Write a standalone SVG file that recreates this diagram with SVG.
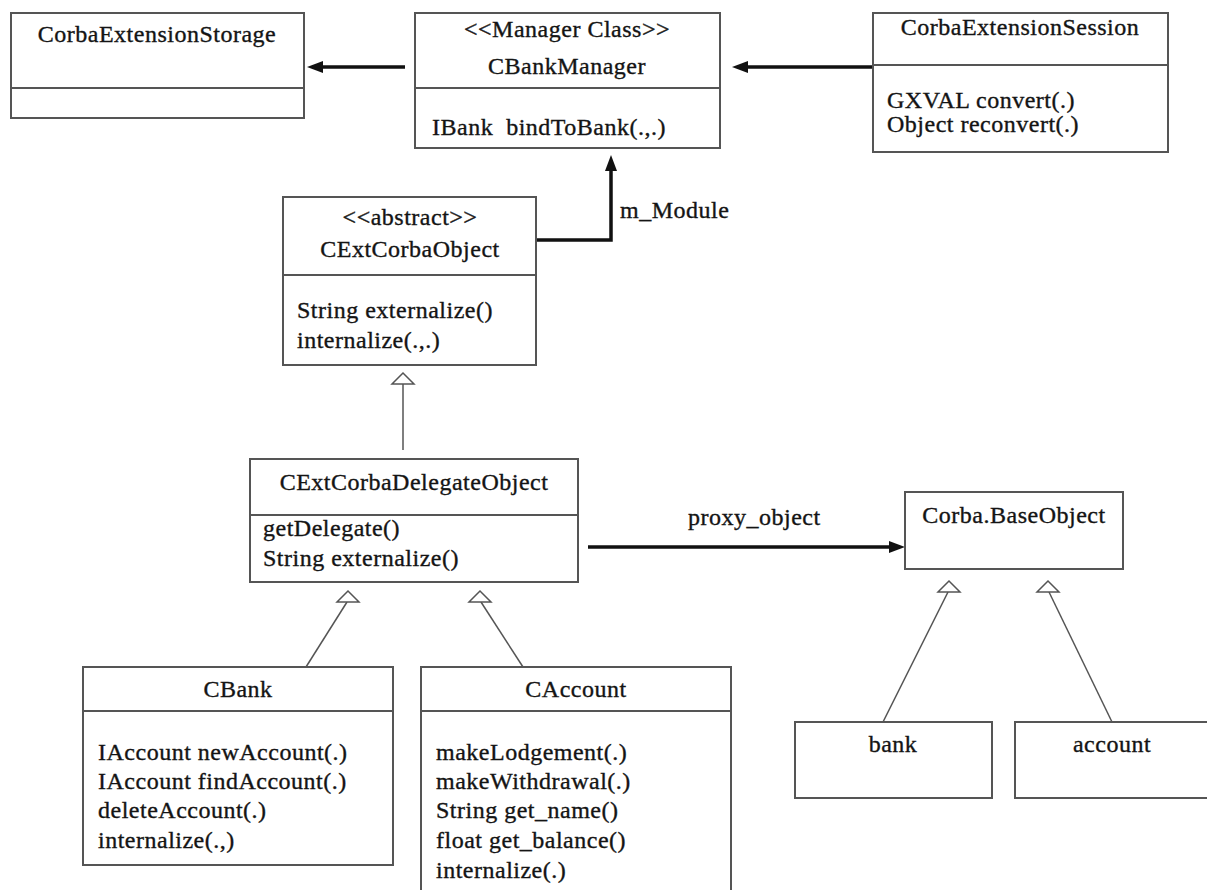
<svg xmlns="http://www.w3.org/2000/svg" xmlns:xlink="http://www.w3.org/1999/xlink" width="1207" height="890" viewBox="0 0 1207 890" font-family="Liberation Serif, DejaVu Serif, serif">
  <style>
    .box { fill: #ffffff; stroke: #555555; stroke-width: 2; }
    .div { stroke: #555555; stroke-width: 2; fill: none; }
    text { font-family: 'Liberation Serif', 'DejaVu Serif', 'Noto Serif', serif; font-size: 24px; letter-spacing: 0.5px; fill: #141414; stroke: #141414; stroke-width: 0.35; }
    .c { text-anchor: middle; }
    .assoc { stroke: #111111; stroke-width: 3.5; fill: none; marker-end: url(#arrow); }
    .gen { stroke: #555555; stroke-width: 1.5; fill: none; }
    .gen-head { fill: #ffffff; stroke: #555555; stroke-width: 1.5; }
  </style>
  <defs>
    <!-- filled arrowhead for navigable associations -->
    <marker id="arrow" viewBox="0 0 16 12" refX="5" refY="6" markerWidth="16" markerHeight="12" orient="auto" markerUnits="userSpaceOnUse">
      <path d="M0,0 L16,6 L0,12 z" fill="#111111"/>
    </marker>
    <!-- hollow generalization triangle, apex at origin -->
    <polygon id="genHead" class="gen-head" points="0,0 -11,11 11,11"/>
  </defs>

  <rect width="1207" height="890" fill="#ffffff"/>

  <!-- connectors -->
  <g id="connectors">
    <path class="assoc" d="M405,67 H318"/>
    <path class="assoc" d="M873,67 H743"/>
    <path class="assoc" d="M536,240 H611 V166"/>
    <path class="assoc" d="M588,547 H894"/>
    <text x="620" y="218">m_Module</text>
    <text x="688" y="525">proxy_object</text>

    <path class="gen" d="M403,450 V384"/>
    <use xlink:href="#genHead" x="403" y="373"/>

    <path class="gen" d="M306,667 L347,602"/>
    <use xlink:href="#genHead" x="348" y="591"/>
    <path class="gen" d="M523,667 L481,602"/>
    <use xlink:href="#genHead" x="480" y="591"/>

    <path class="gen" d="M883,722 L948,592"/>
    <use xlink:href="#genHead" x="949" y="581"/>
    <path class="gen" d="M1112,722 L1049,592"/>
    <use xlink:href="#genHead" x="1048" y="581"/>
  </g>

  <g id="CorbaExtensionStorage">
    <rect class="box" x="11" y="13" width="293" height="105"/>
    <line class="div" x1="11" y1="88" x2="304" y2="88"/>
    <text class="c" x="157" y="42">CorbaExtensionStorage</text>
  </g>

  <g id="CBankManager">
    <rect class="box" x="415" y="13" width="305" height="135"/>
    <line class="div" x1="415" y1="88" x2="720" y2="88"/>
    <text class="c" x="567" y="37">&lt;&lt;Manager Class&gt;&gt;</text>
    <text class="c" x="567" y="74">CBankManager</text>
    <text x="432" y="135" style="white-space:pre">IBank  bindToBank(.,.)</text>
  </g>

  <g id="CorbaExtensionSession">
    <rect class="box" x="873" y="13" width="295" height="139"/>
    <line class="div" x1="873" y1="65" x2="1168" y2="65"/>
    <text class="c" x="1020" y="35">CorbaExtensionSession</text>
    <text x="887" y="108">GXVAL convert(.)</text>
    <text x="887" y="132">Object reconvert(.)</text>
  </g>

  <g id="CExtCorbaObject">
    <rect class="box" x="283" y="197" width="253" height="168"/>
    <line class="div" x1="283" y1="275" x2="536" y2="275"/>
    <text class="c" x="410" y="225">&lt;&lt;abstract&gt;&gt;</text>
    <text class="c" x="410" y="257">CExtCorbaObject</text>
    <text x="297" y="318">String externalize()</text>
    <text x="297" y="348">internalize(.,.)</text>
  </g>

  <g id="CExtCorbaDelegateObject">
    <rect class="box" x="250" y="459" width="328" height="123"/>
    <line class="div" x1="250" y1="515" x2="578" y2="515"/>
    <text class="c" x="414" y="490">CExtCorbaDelegateObject</text>
    <text x="263" y="536">getDelegate()</text>
    <text x="263" y="566">String externalize()</text>
  </g>

  <g id="CorbaBaseObject">
    <rect class="box" x="905" y="492" width="218" height="77"/>
    <text class="c" x="1014" y="523">Corba.BaseObject</text>
  </g>

  <g id="CBank">
    <rect class="box" x="83" y="667" width="310" height="198"/>
    <line class="div" x1="83" y1="711" x2="393" y2="711"/>
    <text class="c" x="238" y="697">CBank</text>
    <text x="98" y="760">IAccount newAccount(.)</text>
    <text x="98" y="789">IAccount findAccount(.)</text>
    <text x="98" y="818">deleteAccount(.)</text>
    <text x="98" y="848">internalize(.,)</text>
  </g>

  <g id="CAccount">
    <rect class="box" x="421" y="667" width="310" height="240"/>
    <line class="div" x1="421" y1="711" x2="731" y2="711"/>
    <text class="c" x="576" y="697">CAccount</text>
    <text x="436" y="760">makeLodgement(.)</text>
    <text x="436" y="789">makeWithdrawal(.)</text>
    <text x="436" y="818">String get_name()</text>
    <text x="436" y="848">float get_balance()</text>
    <text x="436" y="878">internalize(.)</text>
  </g>

  <g id="bank">
    <rect class="box" x="795" y="722" width="197" height="76"/>
    <text class="c" x="893" y="752">bank</text>
  </g>

  <g id="account">
    <rect class="box" x="1015" y="722" width="200" height="76"/>
    <text class="c" x="1112" y="752">account</text>
  </g>
</svg>
